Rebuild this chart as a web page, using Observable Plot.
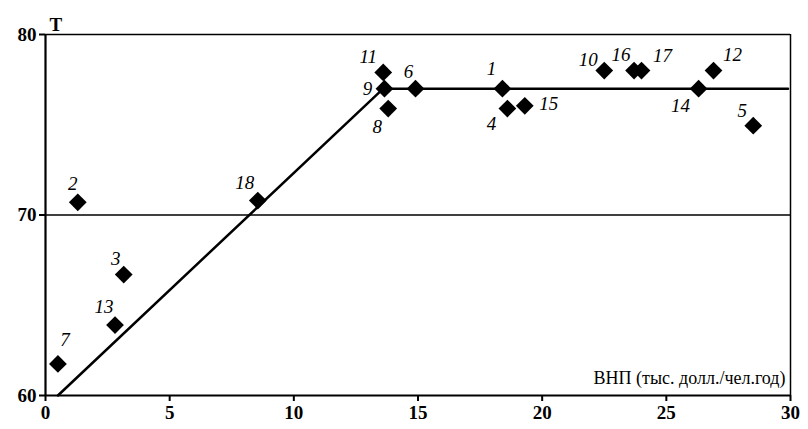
<!DOCTYPE html>
<html>
<head>
<meta charset="utf-8">
<script src="https://cdn.jsdelivr.net/npm/d3@7"></script>
<script src="https://cdn.jsdelivr.net/npm/@observablehq/plot@0.6"></script>
<style>
  html, body { margin: 0; padding: 0; background: #fff; }
  #chart { width: 808px; height: 429px; }
</style>
</head>
<body>
<div id="chart"></div>
<script>
// ---- data ----
const pointIds = [1, 2, 3, 4, 5, 6, 7, 8, 9, 10, 11, 12, 13, 14, 15, 16, 17, 18];
const gnp  = [18.4, 1.3, 3.15, 18.6, 28.5, 14.9, 0.5, 13.8, 13.65, 22.5, 13.6, 26.9, 2.8, 26.3, 19.3, 23.7, 24.0, 8.55];
const life = [77.0, 70.7, 66.7, 75.9, 74.95, 77.0, 61.75, 75.9, 77.0, 78.0, 77.9, 78.0, 63.9, 77.0, 76.05, 78.0, 78.0, 70.8];
const fitX = [0.5, 13.6, 29.9];
const fitY = [60, 77, 77];
const xTicks = [0, 5, 10, 15, 20, 25, 30];
const yTicks = [60, 70, 80];
const refLevel = [70];
const yTitle = "T";
const xTitle = "ВНП (тыс. долл./чел.год)";

// label offsets (layout only), in px, per point
const labelDx = [-11, -5, -8, -16, -11, -7, 7, -11, -17, -16, -15, 19, -11, -18, 24, -13, 21, -13];
const labelDy = [-20, -18, -16, 15, -15, -17, -24, 18, 0, -11, -15, -16, -18, 17, -2, -16, -15, -18];

const points = pointIds.map((id, i) => ({id, x: gnp[i], y: life[i], dx: labelDx[i], dy: labelDy[i]}));
const fit = fitX.map((x, i) => ({x, y: fitY[i]}));

const labelMarks = points.map(p => Plot.text([p], {
  x: "x", y: "y", text: d => String(d.id), dx: p.dx, dy: p.dy,
  fontStyle: "italic", fontSize: 19, fill: "black"
}));

const chart = Plot.plot({
  width: 808,
  height: 429,
  marginLeft: 45,
  marginRight: 18,
  marginTop: 34,
  marginBottom: 34,
  x: {domain: [0, 30]},
  y: {domain: [60, 80]},
  style: {fontSize: "18px", background: "#fff", color: "#000"},
  marks: [
    Plot.ruleY(refLevel, {stroke: "black", strokeWidth: 1.5}),
    Plot.ruleY([80], {stroke: "black", strokeWidth: 1.5}),
    Plot.ruleX([30], {stroke: "black", strokeWidth: 1.5}),
    Plot.ruleX([0], {stroke: "black", strokeWidth: 2.2}),
    Plot.ruleY([60], {stroke: "black", strokeWidth: 2.2}),
    Plot.axisX({ticks: xTicks, tickSize: 6, tickPadding: 4, label: null, strokeWidth: 2, fontSize: 19, fontWeight: "bold"}),
    Plot.axisY({ticks: yTicks, tickSize: 6, tickPadding: 3, label: null, strokeWidth: 2, fontSize: 19, fontWeight: "bold"}),
    Plot.line(fit, {x: "x", y: "y", stroke: "black", strokeWidth: 2.5}),
    Plot.dot(points, {x: "x", y: "y", symbol: "diamond2", r: 8, fill: "black", stroke: "none"}),
    ...labelMarks,
    Plot.text([yTitle], {frameAnchor: "top-left", dx: 4, dy: -17, text: d => d, fontWeight: "bold", fontSize: 19}),
    Plot.text([xTitle], {frameAnchor: "bottom-right", dx: -5, dy: -12, text: d => d, fontSize: 18, textAnchor: "end"})
  ]
});
// force the serif face on every text node
d3.select(chart).selectAll("g, text, tspan")
  .attr("font-family", "Liberation Serif")
  .style("font-family", "\"Liberation Serif\", serif", "important");
d3.select(chart).attr("font-family", "Liberation Serif").style("font-family", "\"Liberation Serif\", serif", "important");
document.getElementById("chart").appendChild(chart);
</script>
</body>
</html>
